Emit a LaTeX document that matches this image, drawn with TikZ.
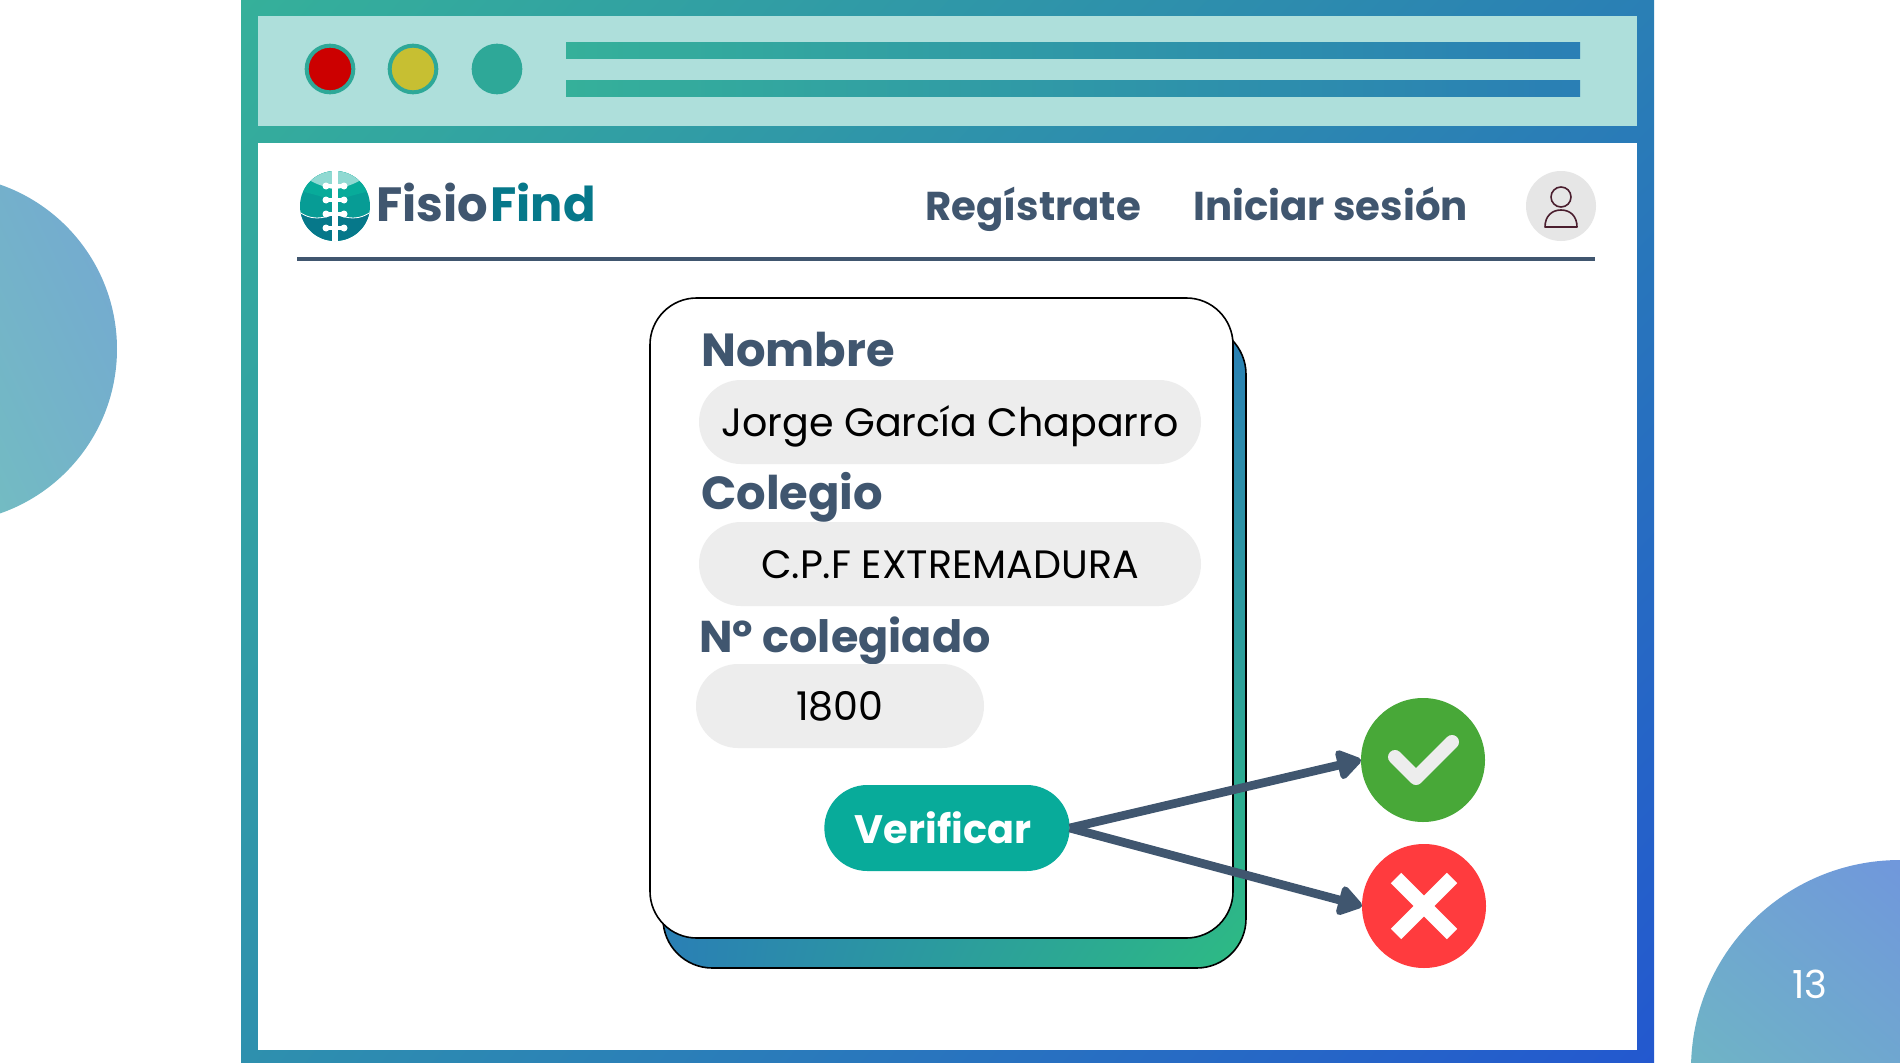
\documentclass[tikz,border=0pt]{standalone}
\usepackage{fontspec}
\setmainfont{Poppins}
\usetikzlibrary{arrows.meta,shadings,shapes.misc}
\definecolor{slateInk}{HTML}{40566F}
\definecolor{findTeal}{HTML}{06788A}
\definecolor{pillGrey}{HTML}{EDEDED}
\definecolor{bandMint}{HTML}{AEDFDB}
\definecolor{frameGreen}{HTML}{35B09A}
\definecolor{frameBlue}{HTML}{2A7FB5}
\definecolor{frameDeep}{HTML}{2358CF}
\definecolor{frameMid}{HTML}{2E90AE}
\definecolor{btnTeal}{HTML}{08AB9A}
\definecolor{lampTeal}{HTML}{2EA898}
\definecolor{okGreen}{HTML}{48A838}
\definecolor{koRed}{HTML}{FF3B3E}
\definecolor{avatarInk}{HTML}{4A1E2E}
\tikzset{
    lamp/.style={circle,draw=lampTeal,line width=3,minimum size=35,inner sep=0,outer sep=0},
    fieldpill/.style={rounded rectangle,fill=pillGrey,minimum height=63,inner sep=0,text=black,text height=21,text depth=0,font=\fontsize{29.7}{36}\selectfont},
    formlabel/.style={anchor=base west,inner sep=0,text=slateInk,font=\fontsize{34.8}{40}\selectfont\bfseries},
    navlabel/.style={anchor=base west,inner sep=0,text=slateInk,font=\fontsize{30.2}{35}\selectfont\bfseries},
    flowarrow/.style={draw=slateInk,line width=6.5,-{Triangle[length=20,width=25,round]}},
    statusdot/.style={circle,minimum size=93,inner sep=0,outer sep=0},
}
\begin{document}
\begin{tikzpicture}[x=0.75pt,y=0.75pt,yscale=-1]
    \useasboundingbox (0,0) rectangle (1900,1063);
    \clip (0,0) rectangle (1900,1063);

    % Corner discs
    \shade[left color=frameGreen!70!white,right color=frameBlue!65!white,shading angle=115] (-57,349) circle (174);
    \shade[left color=frameDeep!65!white,right color=frameGreen!65!frameBlue!70!white,shading angle=-40] (1900,1069) circle (209);
    \node[text=white,font=\fontsize{29}{35}\selectfont\mdseries] (pagenum) at (1810,984) {13};

    % Window frame
    \shade[upper left=frameGreen,upper right=frameBlue,lower left=frameMid,lower right=frameDeep] (241,0) rectangle (1654,1063);
    \fill[bandMint] (258,16) rectangle (1637,126);
    \fill[white] (258,143) rectangle (1637,1050);

    % Window buttons
    \node[lamp,fill=red!80!black] (lampred) at (330,69) {};
    \node[lamp,fill=yellow!75!black] (lampyellow) at (413,69) {};
    \node[lamp,fill=lampTeal] (lampteal) at (497,69) {};
    \shade[left color=frameGreen,right color=frameBlue] (566,43) rectangle (1580,59);
    \shade[left color=frameGreen,right color=frameBlue] (566,81) rectangle (1580,97);

    % Logo
    \begin{scope}
        \clip (335,206) circle (35);
        \fill[btnTeal!70!findTeal] (299,170) rectangle (371,242);
        \fill[findTeal] (299,242) -- (299,212) .. controls (306,216) and (314,222) .. (335,214) .. controls (356,222) and (364,216) .. (371,212) -- (371,242) -- cycle;
        \fill[btnTeal] (299,190) .. controls (308,194) and (318,194) .. (335,202) .. controls (352,194) and (362,194) .. (371,190) -- (371,170) -- (299,170) -- cycle;
        \fill[btnTeal!45!white] (309,180) .. controls (316,184) and (322,186) .. (335,190) .. controls (348,186) and (354,184) .. (361,180) -- (371,170) -- (299,170) -- cycle;
        \draw[white,line width=0.6] (299,212) .. controls (306,216) and (314,222) .. (335,214) .. controls (356,222) and (364,216) .. (371,212);
        \fill[white] (332,170) rectangle (338,242);
        \foreach \vy in {186,200,214,228} {
            \fill[white] (326,\vy) circle (3.5);
            \fill[white] (344,\vy) circle (3.5);
            \fill[white] (326,\vy-2) rectangle (344,\vy+2);
        }
    \end{scope}
    \node[anchor=base west,inner sep=0,text=slateInk,font=\fontsize{36}{42}\selectfont\bfseries] (logofisio) at (376,221) {Fisio};
    \node[anchor=base west,inner sep=0,text=findTeal,font=\fontsize{36}{42}\selectfont\bfseries] (logofind) at (490,221) {Find};

    % Navigation
    \node[navlabel] (navsignup) at (925,220) {Regístrate};
    \node[navlabel] (navlogin) at (1193,220) {Iniciar sesión};
    \node[circle,fill=pillGrey!97!black,minimum size=52.5,inner sep=0] (avatar) at (1561,206) {};
    \draw[avatarInk,line width=1.2] (1561,197) circle (10);
    \draw[avatarInk,line width=1.2,line join=round] (1545,227) .. controls (1545,216) and (1552,210) .. (1561,210) .. controls (1570,210) and (1577,216) .. (1577,227) -- cycle;
    \draw[slateInk,line width=3] (297,259) -- (1595,259);

    % Card
    \path[draw=black,line width=1.2,rounded corners=37,shade,upper left=frameBlue,upper right=frameBlue,lower left=frameBlue,lower right=frameGreen!85!green] (663,325) rectangle (1246,968);
    \draw[black,line width=1.2,fill=white,rounded corners=35] (650,298) rectangle (1233,938);

    % Form fields
    \node[formlabel] (lblname) at (701,366) {Nombre};
    \node[fieldpill,minimum width=376.5] (fieldname) at (950,422) {Jorge García Chaparro};
    \node[formlabel] (lblcollege) at (701,509) {Colegio};
    \node[fieldpill,minimum width=376.5] (fieldcollege) at (950,564) {C.P.F EXTREMADURA};
    \node[formlabel,font=\fontsize{33.4}{40}\selectfont\bfseries] (lblnumber) at (699,652) {Nº colegiado};
    \node[fieldpill,minimum width=216] (fieldnumber) at (840,706) {1800};

    % Button
    \node[rounded rectangle,fill=btnTeal,minimum width=184,minimum height=64.5,inner sep=0,outer sep=0] (btnverify) at (947,828) {};
    \node[text=white,inner sep=0,font=\fontsize{29.8}{38}\selectfont\bfseries] (btntext) at (943,828) {Verificar};

    % Results
    \node[statusdot,fill=okGreen] (dotok) at (1423,760) {};
    \node[statusdot,fill=koRed] (dotko) at (1424,906) {};
    \draw[pillGrey,line width=10.5,line cap=round,line join=round] (1395,757) -- (1416,778) -- (1452,742);
    \draw[white,line width=11] (1396,878) -- (1452,934);
    \draw[white,line width=11] (1452,878) -- (1396,934);

    % Arrows
    \draw[flowarrow] (btnverify.east) -- (dotok.west);
    \draw[flowarrow] (btnverify.east) -- (dotko.west);
\end{tikzpicture}
\end{document}
